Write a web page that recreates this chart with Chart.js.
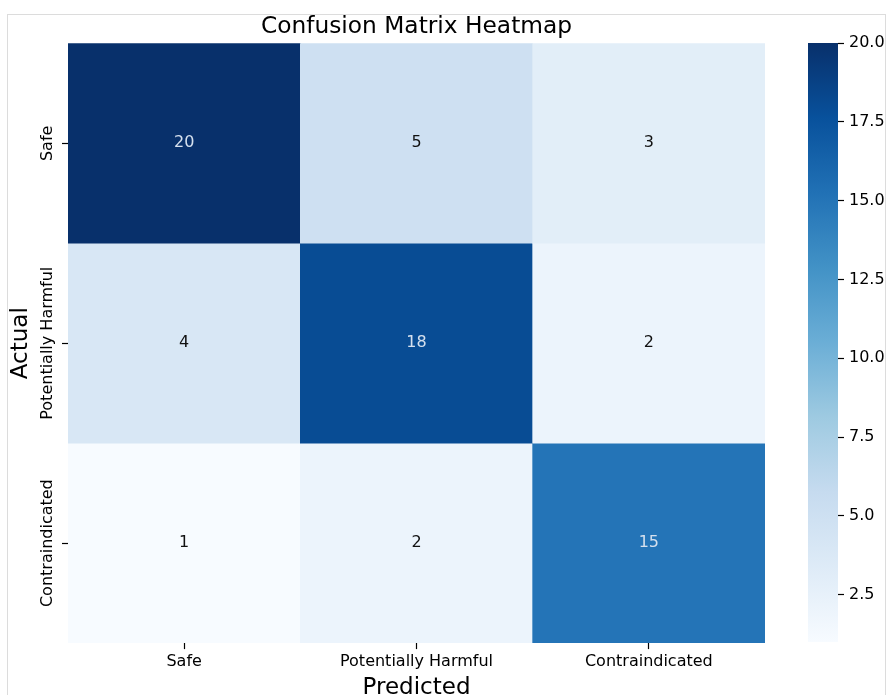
<!DOCTYPE html>
<html lang="en">
  <head>
    <meta charset="UTF-8" />
    <title>Confusion Matrix Heatmap</title>
    <script src="https://cdn.jsdelivr.net/npm/chart.js@4.4.1/dist/chart.umd.min.js"></script>
    <style>
      body { margin: 0; background: #fff; overflow: hidden; }
      #frame {
        position: absolute; left: 7px; top: 14px; width: 879px; height: 720px;
        border: 1px solid #dcdcdc; box-sizing: border-box;
      }
      #heatmap { position: absolute; left: 0; top: 0; }
      #colorbar { position: absolute; left: 790px; top: 0; }
    </style>
  </head>

  <body>
    <div id="frame"></div>
    <canvas id="heatmap" width="889" height="695"></canvas>
    <canvas id="colorbar" width="99" height="695"></canvas>
    <script>
      const predictedLabels = ["Safe", "Potentially Harmful", "Contraindicated"];
      const actualLabels = ["Safe", "Potentially Harmful", "Contraindicated"];
      // one row per actual class, columns follow predictedLabels
      const safeRow = [20, 5, 3];
      const harmfulRow = [4, 18, 2];
      const contraRow = [1, 2, 15];
      const colorbarTicks = [2.5, 5, 7.5, 10, 12.5, 15, 17.5, 20];

      const rows = [safeRow, harmfulRow, contraRow];
      const allValues = rows.flat();
      const vmin = Math.min(...allValues);
      const vmax = Math.max(...allValues);

      Chart.defaults.font.family = "'DejaVu Sans', sans-serif";
      Chart.defaults.color = "#000";

      // matplotlib "Blues"
      const bluesStops = [
        "#f7fbff", "#deebf7", "#c6dbef", "#9ecae1", "#6baed6",
        "#4292c6", "#2171b5", "#08519c", "#08306b",
      ];
      const hexRgb = (h) => [1, 3, 5].map((i) => parseInt(h.slice(i, i + 2), 16));
      function blues(t) {
        t = Math.max(0, Math.min(1, t));
        const pos = t * (bluesStops.length - 1);
        const i = Math.min(Math.floor(pos), bluesStops.length - 2);
        const f = pos - i;
        const a = hexRgb(bluesStops[i]);
        const b = hexRgb(bluesStops[i + 1]);
        const c = a.map((v, k) => Math.round(v + (b[k] - v) * f));
        return `rgb(${c[0]}, ${c[1]}, ${c[2]})`;
      }
      const norm = (v) => (v - vmin) / (vmax - vmin);

      // cell numbers and rotated row labels
      const cellText = {
        id: "cellText",
        afterDatasetsDraw(chart) {
          const { ctx } = chart;
          const x = chart.scales.x;
          const y = chart.scales.y;
          ctx.save();
          ctx.font = "16px 'DejaVu Sans'";
          ctx.textAlign = "center";
          ctx.textBaseline = "middle";
          rows.forEach((row, i) => {
            row.forEach((v, j) => {
              ctx.fillStyle = norm(v) > 0.6 ? "#d5e0ee" : "#111";
              ctx.fillText(String(v), x.getPixelForValue(j), y.getPixelForValue(i + 0.5));
            });
          });
          ctx.fillStyle = "#000";
          actualLabels.forEach((lab, i) => {
            ctx.save();
            ctx.translate(y.right - 20.5, y.getPixelForValue(i + 0.5));
            ctx.rotate(-Math.PI / 2);
            ctx.fillText(lab, 0, 0);
            ctx.restore();
          });
          ctx.restore();
        },
      };

      const datasets = rows.map((row, i) => ({
        label: actualLabels[i],
        data: row.map(() => [i, i + 1]),
        backgroundColor: row.map((v) => blues(norm(v))),
        borderWidth: 0,
        grouped: false,
        barPercentage: 1,
        categoryPercentage: 1,
      }));

      const heatmap = new Chart(document.getElementById("heatmap"), {
        type: "bar",
        data: { labels: predictedLabels, datasets: datasets },
        plugins: [cellText],
        options: {
          responsive: false,
          animation: false,
          layout: { padding: { left: 0, right: 124, top: 0, bottom: 0 } },
          plugins: {
            legend: { display: false },
            tooltip: { enabled: false },
            title: {
              display: true,
              text: "Confusion Matrix Heatmap",
              fullSize: false,
              color: "#000",
              font: { size: 23.3, weight: "normal" },
              padding: { top: 13.2, bottom: 2.2 },
            },
          },
          scales: {
            x: {
              type: "category",
              grid: {
                offset: false,
                drawOnChartArea: false,
                tickLength: 6,
                tickColor: "#000",
                tickWidth: 1.2,
              },
              border: { display: false },
              ticks: { font: { size: 16 }, padding: 2.9, maxRotation: 0 },
              title: {
                display: true,
                text: "Predicted",
                font: { size: 23 },
                padding: { top: 0.1, bottom: -6.8 },
              },
            },
            y: {
              type: "linear",
              min: 0,
              max: 3,
              reverse: true,
              afterBuildTicks: (s) => {
                s.ticks = actualLabels.map((_, i) => ({ value: i + 0.5 }));
              },
              afterFit: (s) => {
                s.width = 68;
              },
              grid: { drawOnChartArea: false, tickLength: 6, tickColor: "#000", tickWidth: 1.2 },
              border: { display: false },
              ticks: { display: false },
              title: {
                display: true,
                text: "Actual",
                font: { size: 23 },
                padding: { top: 7, bottom: 0 },
              },
            },
          },
        },
      });

      const colorbar = new Chart(document.getElementById("colorbar"), {
        type: "bar",
        data: {
          labels: [""],
          datasets: [
            {
              data: [[vmin, vmax]],
              backgroundColor: (c) => {
                const chart = c.chart;
                const y = chart.scales.y;
                if (!chart.chartArea || !y) return blues(0.5);
                const g = chart.ctx.createLinearGradient(
                  0, y.getPixelForValue(vmin), 0, y.getPixelForValue(vmax)
                );
                bluesStops.forEach((s, i) => g.addColorStop(i / (bluesStops.length - 1), s));
                return g;
              },
              borderWidth: 0,
              barPercentage: 1,
              categoryPercentage: 1,
            },
          ],
        },
        options: {
          responsive: false,
          animation: false,
          layout: { padding: { left: 18, right: 0, top: 43, bottom: 53 } },
          plugins: { legend: { display: false }, tooltip: { enabled: false } },
          scales: {
            x: { display: false },
            y: {
              position: "right",
              min: vmin,
              max: vmax,
              afterBuildTicks: (s) => {
                s.ticks = colorbarTicks.map((v) => ({ value: v }));
              },
              afterFit: (s) => {
                s.width = 51;
              },
              grid: { drawOnChartArea: false, tickLength: 6, tickColor: "#000", tickWidth: 1.2 },
              border: { display: false },
              ticks: {
                font: { size: 16 },
                padding: 5,
                callback: (v) => Number(v).toFixed(1),
              },
            },
          },
        },
      });
    </script>
  </body>
</html>
